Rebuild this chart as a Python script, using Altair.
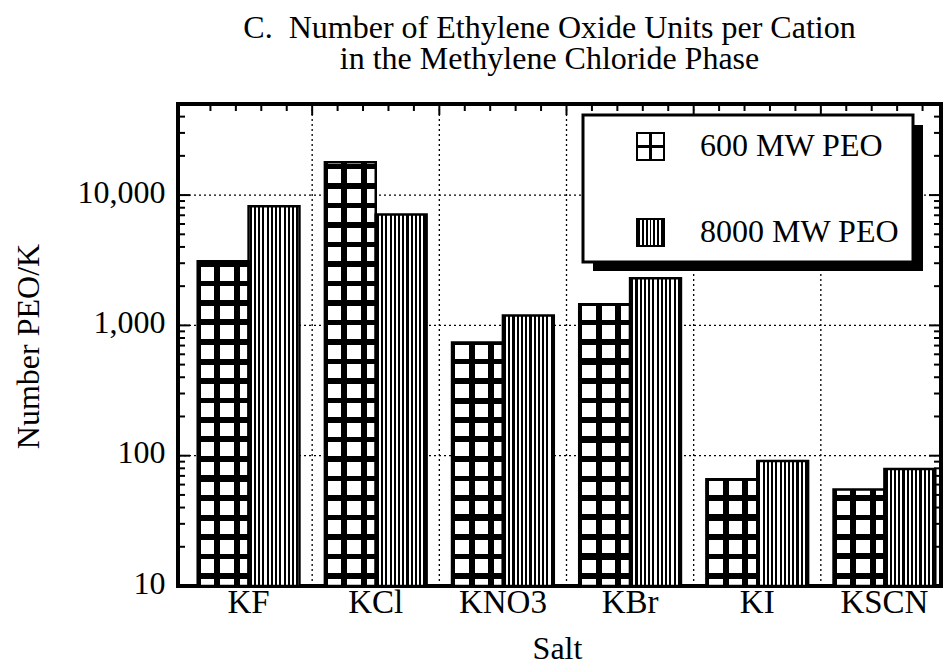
import math

import altair as alt
import pandas as pd

# ---- data -----------------------------------------------------------------
salts = ["KF", "KCl", "KNO3", "KBr", "KI", "KSCN"]
series = ["600 MW PEO", "8000 MW PEO"]
peo_600 = [3100, 17900, 740, 1450, 66, 55]
peo_8000 = [8200, 7100, 1190, 2300, 91, 79]

y_labels = [10, 100, 1000, 10000]
y_grid = [100, 1000, 10000]
y_minor = [m * 10 ** e for e in (1, 2, 3) for m in range(2, 10)] + [20000, 30000, 40000]

# ---- layout ---------------------------------------------------------------
W, H = 763, 482
Y_MIN, Y_MAX = 10, 50000
X_SHIFT = 7
FONT = "Liberation Serif"
CLEAR = "rgba(255,255,255,0)"

df = pd.DataFrame({
    "salt": salts * 2,
    "series": [series[0]] * len(salts) + [series[1]] * len(salts),
    "value": peo_600 + peo_8000,
})

x_scale = alt.Scale(domain=salts, range=[X_SHIFT, X_SHIFT + W], paddingInner=0, paddingOuter=0)
off_scale = alt.Scale(domain=series, paddingInner=0, paddingOuter=0.25)
y_scale = alt.Scale(type="log", domain=[Y_MIN, Y_MAX], nice=False)

step = W / len(salts)
bar_w = step / 2.5


def line_stops(length, centers, thickness, on="black", off=CLEAR):
    """Hard-edged gradient stops that draw lines of given thickness."""
    stops = [{"offset": 0, "color": off}]
    for c in sorted(centers):
        a = max(0.0, (c - thickness / 2) / length)
        b = min(1.0, (c + thickness / 2) / length)
        if b <= 0 or a >= 1:
            continue
        a, b = round(a, 5), round(b, 5)
        stops += [
            {"offset": a, "color": off},
            {"offset": a, "color": on},
            {"offset": b, "color": on},
            {"offset": b, "color": off},
        ]
    stops.append({"offset": 1, "color": off})
    return stops


def gradient(stops, vertical_lines=True):
    if vertical_lines:
        return {"gradient": "linear", "x1": 0, "y1": 0, "x2": 1, "y2": 0, "stops": stops}
    return {"gradient": "linear", "x1": 0, "y1": 0, "x2": 0, "y2": 1, "stops": stops}


# vertical stripes for the 8000 MW bars
n_stripes = 12
period = bar_w / n_stripes
stripe_fill = gradient(line_stops(bar_w, [period * (k + 0.5) for k in range(n_stripes)],
                                  period * 0.5, on="black", off="white"))

# lattice for the 600 MW bars: vertical part shared, horizontal part per bar
CELL = 19.5
LINE = 6
lattice_v = gradient(line_stops(bar_w, [CELL * k for k in range(4)], LINE))


def bar_height(v):
    return (math.log10(v) - math.log10(Y_MIN)) / (math.log10(Y_MAX) - math.log10(Y_MIN)) * H


def lattice_h(v):
    h = bar_height(v)
    centers = [h - (10 + CELL * k) for k in range(int(h // CELL) + 2)]
    return gradient(line_stops(h, centers, LINE), vertical_lines=False)


# one shared definition per axis so every layer merges into the same axis
x_axis = alt.Axis(
    title="Salt", labelAngle=0, ticks=False, domain=False, grid=False,
    labelFontSize=33, labelPadding=0, titleFontSize=32,
    titleX=379, titleY=62, titleBaseline="middle",
)
y_axis = alt.Axis(
    title="Number PEO/K", values=y_labels, format=",", ticks=False, domain=False,
    grid=False, labelFontSize=32, labelPadding=13, labelOffset=-3, labelFlush=False,
    titleFontSize=32, titleX=-150, titleY=242, titleBaseline="middle", titleAlign="center",
)


def X(bp=None):
    if bp is None:
        return alt.X("salt:N", scale=x_scale, axis=x_axis)
    return alt.X("salt:N", scale=x_scale, axis=x_axis, bandPosition=bp)


def Y(field):
    return alt.Y(f"{field}:Q", scale=y_scale, axis=y_axis)


def bar_layer(data, mark):
    return alt.Chart(data).mark_bar(**mark).encode(
        x=X(),
        xOffset=alt.XOffset("series:N", scale=off_scale),
        y=Y("value"),
        y2=alt.datum(Y_MIN),
    )


dotted = dict(color="black", strokeWidth=1.3, strokeDash=[2, 3])

x_grid = alt.Chart(pd.DataFrame({"salt": salts[1:]})).mark_rule(**dotted).encode(x=X(0))
y_grid_layer = alt.Chart(pd.DataFrame({"v": y_grid})).mark_rule(**dotted).encode(y=Y("v"))

layers = [x_grid, y_grid_layer]

# bars
layers.append(bar_layer(df, dict(fill="white")))
layers.append(bar_layer(df[df.series == series[1]], dict(fill=stripe_fill)))
layers.append(bar_layer(df[df.series == series[0]], dict(fill=lattice_v)))
for s, v in zip(salts, peo_600):
    sub = df[(df.series == series[0]) & (df.salt == s)]
    layers.append(bar_layer(sub, dict(fill=lattice_h(v))))
layers.append(bar_layer(df, dict(fill="white", fillOpacity=0, stroke="black", strokeWidth=2.5)))

# inward ticks on the left and right frame
tick_style = dict(color="black", strokeWidth=2)
for vals, length in ((y_minor, 7), (y_grid, 12)):
    tdf = pd.DataFrame({"v": vals})
    layers.append(alt.Chart(tdf).mark_rule(**tick_style).encode(
        y=Y("v"), x=alt.value(0), x2=alt.value(length)))
    layers.append(alt.Chart(tdf).mark_rule(**tick_style).encode(
        y=Y("v"), x=alt.value(W - length), x2=alt.value(W)))

# inward ticks along the top frame
for bp in (0.2, 0.4, 0.6, 0.8):
    layers.append(alt.Chart(pd.DataFrame({"salt": salts})).mark_rule(**tick_style).encode(
        x=X(bp), y=alt.value(0), y2=alt.value(7)))
layers.append(alt.Chart(pd.DataFrame({"salt": salts[1:]})).mark_rule(**tick_style).encode(
    x=X(0), y=alt.value(0), y2=alt.value(11)))

# legend box with drop shadow
one = pd.DataFrame({"k": [0]})
layers.append(alt.Chart(one).mark_rect(color="black").encode(
    x=alt.value(415), x2=alt.value(745), y=alt.value(21), y2=alt.value(167)))
layers.append(alt.Chart(one).mark_rect(fill="white", stroke="black", strokeWidth=3).encode(
    x=alt.value(405), x2=alt.value(735), y=alt.value(11), y2=alt.value(158)))

SYM = 27
sym_rows = [(series[0], 29), (series[1], 115)]
for name, top in sym_rows:
    box = dict(x=alt.value(459), x2=alt.value(459 + SYM), y=alt.value(top), y2=alt.value(top + SYM))
    if name == series[0]:
        layers.append(alt.Chart(one).mark_rect(fill="white").encode(**box))
        layers.append(alt.Chart(one).mark_rect(
            fill=gradient(line_stops(SYM, [SYM / 2], 4))).encode(**box))
        layers.append(alt.Chart(one).mark_rect(
            fill=gradient(line_stops(SYM, [SYM / 2], 4), vertical_lines=False)).encode(**box))
    else:
        p = SYM / 7
        layers.append(alt.Chart(one).mark_rect(
            fill=gradient(line_stops(SYM, [p * (k + 0.5) for k in range(7)], p * 0.5,
                                     on="black", off="white"))).encode(**box))
    layers.append(alt.Chart(one).mark_rect(
        fill="white", fillOpacity=0, stroke="black", strokeWidth=2).encode(**box))
    layers.append(alt.Chart(pd.DataFrame({"series": [name]})).mark_text(
        font=FONT, fontSize=32, align="left", baseline="alphabetic", color="black").encode(
        x=alt.value(522), y=alt.value(top + 23), text="series:N"))

chart = alt.layer(*layers).properties(
    width=W,
    height=H,
    title=alt.Title(
        ["C.\u00a0 Number of Ethylene Oxide Units per Cation", "in the Methylene Chloride Phase"],
        font=FONT, fontSize=32, fontWeight="normal", color="black",
        anchor="middle", offset=27, lineHeight=31, dx=-10,
    ),
    autosize=alt.AutoSizeParams(type="none"),
    padding={"left": 178, "top": 104, "right": 4, "bottom": 83},
).configure_view(
    stroke="black", strokeWidth=4
).configure_axis(
    labelFont=FONT, titleFont=FONT, labelColor="black", titleColor="black",
    titleFontWeight="normal",
)

chart.save("out.html", embed_options={"renderer": "svg", "actions": False})
